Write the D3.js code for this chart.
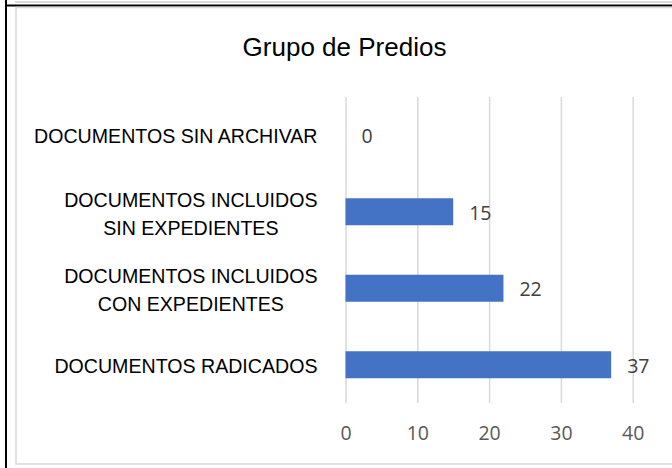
<!DOCTYPE html>
<html>
<head>
<meta charset="utf-8">
<script src="https://cdn.jsdelivr.net/npm/d3@7"></script>
<style>
  html, body { margin: 0; padding: 0; background: #fff; }
  svg { display: block; }
</style>
</head>
<body>
<svg id="chart" width="672" height="468"></svg>
<script>
const title = "Grupo de Predios";
const categories = [
  "DOCUMENTOS SIN ARCHIVAR",
  "DOCUMENTOS INCLUIDOS SIN EXPEDIENTES",
  "DOCUMENTOS INCLUIDOS CON EXPEDIENTES",
  "DOCUMENTOS RADICADOS"
];
const categoryLines = [
  ["DOCUMENTOS SIN ARCHIVAR"],
  ["DOCUMENTOS INCLUIDOS", "SIN EXPEDIENTES"],
  ["DOCUMENTOS INCLUIDOS", "CON EXPEDIENTES"],
  ["DOCUMENTOS RADICADOS"]
];
const values = [0, 15, 22, 37];
const tickValues = [0, 10, 20, 30, 40];

const svg = d3.select("#chart");

// outer frame lines
svg.append("line").attr("x1", 15).attr("x2", 672).attr("y1", 2).attr("y2", 2)
  .attr("stroke", "#d9d9d9").attr("stroke-width", 2);
svg.append("line").attr("x1", 6).attr("x2", 6).attr("y1", 0).attr("y2", 468)
  .attr("stroke", "#000").attr("stroke-width", 2);
svg.append("line").attr("x1", 5).attr("x2", 672).attr("y1", 5.5).attr("y2", 5.5)
  .attr("stroke", "#000").attr("stroke-width", 2);
// chart area border
svg.append("rect").attr("x", 16).attr("y", 7.5).attr("width", 680).attr("height", 456.5)
  .attr("fill", "#fff").attr("stroke", "#d9d9d9").attr("stroke-width", 1.5);

const x = d3.scaleLinear().domain([0, 40]).range([345.5, 632.7]);
const y = d3.scaleBand().domain(categories).range([97, 403])
  .paddingInner(0.647).paddingOuter(0.3235);

// gridlines + tick labels
const axis = d3.axisBottom(x).tickValues(tickValues).tickSize(-306).tickFormat(d3.format("d"));
const gAxis = svg.append("g").attr("transform", "translate(0,403)").call(axis);
gAxis.select(".domain").remove();
gAxis.selectAll(".tick line").attr("stroke", "#d9d9d9").attr("stroke-width", 1.5);
gAxis.selectAll(".tick text")
  .attr("y", 30).attr("dy", "0.36em")
  .attr("fill", "#595959")
  .style("font-family", "'Open Sans', sans-serif")
  .style("font-size", "19.5px");

// bars
svg.append("g").selectAll("rect").data(values).join("rect")
  .attr("x", x(0))
  .attr("y", (d, i) => y(categories[i]))
  .attr("width", d => x(d) - x(0))
  .attr("height", y.bandwidth())
  .attr("fill", "#4472C4");

// value labels
svg.append("g").selectAll("text").data(values).join("text")
  .attr("x", d => x(d) + 16)
  .attr("y", (d, i) => y(categories[i]) + y.bandwidth() / 2 + 1)
  .attr("dy", "0.36em")
  .attr("fill", "#404040")
  .style("font-family", "'Open Sans', sans-serif")
  .style("font-size", "19.5px")
  .text(d => d);

// category labels
const labelRight = 317.5;
const lineH = 28.3;
const gLab = svg.append("g")
  .style("font-family", "'Liberation Sans', Arial, sans-serif")
  .style("font-size", "19.6px")
  .attr("fill", "#000");
categoryLines.forEach((lines, i) => {
  const cy = y(categories[i]) + y.bandwidth() / 2 + (lines.length > 1 ? 2 : 1);
  const t = gLab.append("text");
  lines.forEach((ln, j) => {
    t.append("tspan").attr("y", cy + (j - (lines.length - 1) / 2) * lineH)
      .attr("dy", "0.36em").text(ln);
  });
  let maxW = 0;
  t.selectAll("tspan").each(function() { maxW = Math.max(maxW, this.getComputedTextLength()); });
  if (lines.length === 1) {
    t.attr("text-anchor", "end").selectAll("tspan").attr("x", labelRight);
  } else {
    t.attr("text-anchor", "middle").selectAll("tspan").attr("x", labelRight - maxW / 2);
  }
});

// title
svg.append("text")
  .attr("x", 344.5).attr("y", 47).attr("dy", "0.36em")
  .attr("text-anchor", "middle")
  .style("font-family", "'Liberation Sans', Arial, sans-serif")
  .style("font-size", "26px")
  .attr("fill", "#000")
  .text(title);
</script>
</body>
</html>
